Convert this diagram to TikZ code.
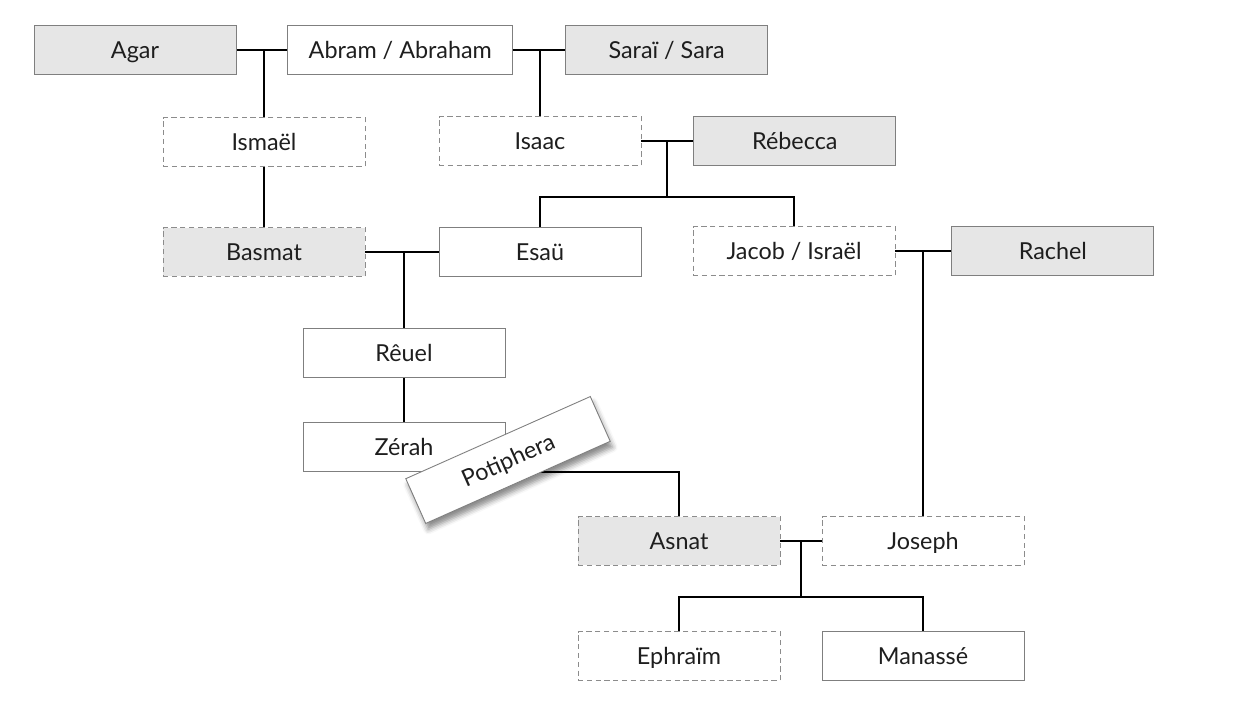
\documentclass[tikz,border=0pt]{standalone}
\usepackage{fontspec}
\setmainfont{Lato}
\usetikzlibrary{positioning, calc, backgrounds, shadows.blur}
\definecolor{boxgray}{RGB}{230,230,230}
\definecolor{edgegray}{RGB}{127,127,127}
\definecolor{dashgray}{RGB}{140,140,140}
\definecolor{namegray}{RGB}{30,30,30}
\tikzset{
  person/.style={rectangle, minimum width=4.04cm, minimum height=0.98cm, inner sep=0pt,
    text centered, text height=9.6pt, text depth=0pt,
    draw=edgegray, fill=white, line width=0.5pt, text=namegray,
    font=\fontsize{13.3}{15}\selectfont},
  spouse/.style={person, fill=boxgray},
  unsure/.style={person, draw=dashgray, dash pattern=on 3pt off 2pt},
  unsurespouse/.style={unsure, fill=boxgray},
  link/.style={line width=1.1pt, color=black},
  tilted/.style={person, rotate=24,
    blur shadow={shadow xshift=0.05cm, shadow yshift=-0.12cm, shadow opacity=45,
      shadow blur radius=0.1cm}},
}
\begin{document}
\begin{tikzpicture}[x=0.02cm, y=-0.02cm]
  \useasboundingbox (0,0) rectangle (1233,719);

  % Abraham and his wives
  \node[spouse] (agar) at (135,50) {Agar};
  \node[person, minimum width=4.5cm, right=1.02cm of agar] (abram) {Abram / Abraham};
  \node[spouse, right=1.04cm of abram] (sarai) {Saraï / Sara};

  \node[unsure] (ismael) at (264,142) {Ismaël};
  \node[unsure] (isaac) at (540,141) {Isaac};
  \node[spouse, right=1.04cm of isaac] (rebecca) {Rébecca};

  \node[unsurespouse] (basmat) at (264,252) {Basmat};
  \node[person] (esau) at (540,252) {Esaü};
  \node[unsure] (jacob) at (794,251) {Jacob / Israël};
  \node[spouse, right=1.12cm of jacob] (rachel) {Rachel};

  \node[person] (reuel) at (404,353) {Rêuel};
  \node[person] (zerah) at (404,447) {Zérah};
  \node[tilted] (poti) at (508,460) {Potiphera};

  \node[unsurespouse] (asnat) at (679,541) {Asnat};
  \node[unsure] (joseph) at (923,541) {Joseph};
  \node[unsure] (ephraim) at (679,656) {Ephraïm};
  \node[person] (manasse) at (923,656) {Manassé};

  \begin{scope}[on background layer]
    \draw[link] (agar) -- (abram);
    \draw[link] (ismael.north |- agar.east) -- (ismael);
    \draw[link] (abram) -- (sarai);
    \draw[link] (isaac.north |- abram.east) -- (isaac);
    \draw[link] (ismael) -- (basmat);

    \draw[link] (isaac) -- (rebecca);
    \draw[link] ($(isaac.east)!0.5!(rebecca.west)$) -- ++(0,56) coordinate (sons);
    \draw[link] (esau) |- (sons) -| (jacob);

    \draw[link] (basmat) -- (esau);
    \draw[link] (reuel.north |- esau.west) -- (reuel);
    \draw[link] (reuel) -- (zerah);

    \draw[link] (jacob) -- (rachel);
    \draw[link] (joseph.north |- jacob.east) -- (joseph);

    \draw[link] ($(poti.center)+(0,12)$) -| (asnat);
    \draw[link] (asnat) -- (joseph);
    \draw[link] ($(asnat.east)!0.5!(joseph.west)$) -- ++(0,56) coordinate (grandsons);
    \draw[link] (ephraim) |- (grandsons) -| (manasse);
  \end{scope}
\end{tikzpicture}
\end{document}
